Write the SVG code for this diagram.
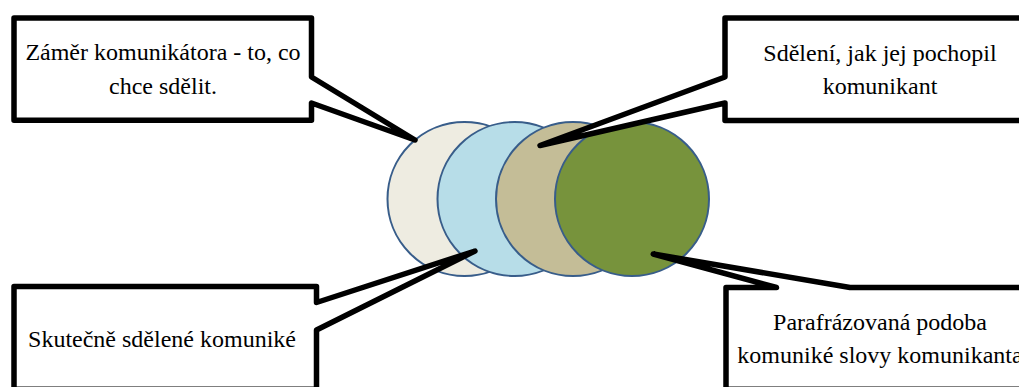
<svg xmlns="http://www.w3.org/2000/svg" width="1019" height="387" viewBox="0 0 1019 387">
<rect width="1019" height="387" fill="#fff"/>
<g id="circles" stroke="#385D8A" stroke-width="2">
<circle id="c1" cx="464.5" cy="199" r="77" fill="#EEECE1"/>
<circle id="c2" cx="514.5" cy="199" r="77" fill="#B7DDE8"/>
<circle id="c3" cx="573" cy="199" r="77" fill="#C4BD97"/>
<circle id="c4" cx="632" cy="199" r="77" fill="#77933C"/>
</g>
<g id="connectors">
</g>
<g id="callout1">
<path fill="#fff" stroke="#000" stroke-width="5.5" stroke-linejoin="round" d="M14,18 L311.5,18 L311.5,77 L415,140 L311.5,103 L311.5,120.3 L14,120.3 Z"/>
<text x="163" y="60" font-size="24" font-family="Liberation Serif" text-anchor="middle">Záměr komunikátora - to, co</text>
<text x="163" y="94" font-size="24" font-family="Liberation Serif" text-anchor="middle">chce sdělit.</text>
</g>
<g id="callout2">
<path fill="#fff" stroke="#000" stroke-width="5.5" stroke-linejoin="round" d="M725,18 L1040,18 L1040,120.5 L725,120.5 L725,103 L540,145.5 L725,77 Z"/>
<text x="880" y="61" font-size="24" font-family="Liberation Serif" text-anchor="middle">Sdělení, jak jej pochopil</text>
<text x="880" y="94" font-size="24" font-family="Liberation Serif" text-anchor="middle">komunikant</text>
</g>
<g id="callout3">
<path fill="#fff" stroke="#000" stroke-width="5.5" stroke-linejoin="round" d="M14,286.5 L316.5,286.5 L316.5,302.5 L475,251 L316.5,330 L316.5,389.3 L14,389.3 Z"/>
<text x="162" y="346.7" font-size="24" font-family="Liberation Serif" text-anchor="middle">Skutečně sdělené komuniké</text>
</g>
<g id="callout4">
<path fill="#fff" stroke="#000" stroke-width="5.5" stroke-linejoin="round" d="M726,287.5 L776.5,287.5 L653.3,254 L850,287.5 L1040,287.5 L1040,389.3 L726,389.3 Z"/>
<text x="880" y="330" font-size="24" font-family="Liberation Serif" text-anchor="middle">Parafrázovaná podoba</text>
<text x="880" y="363" font-size="24" font-family="Liberation Serif" text-anchor="middle">komuniké slovy komunikanta</text>
</g>
</svg>
